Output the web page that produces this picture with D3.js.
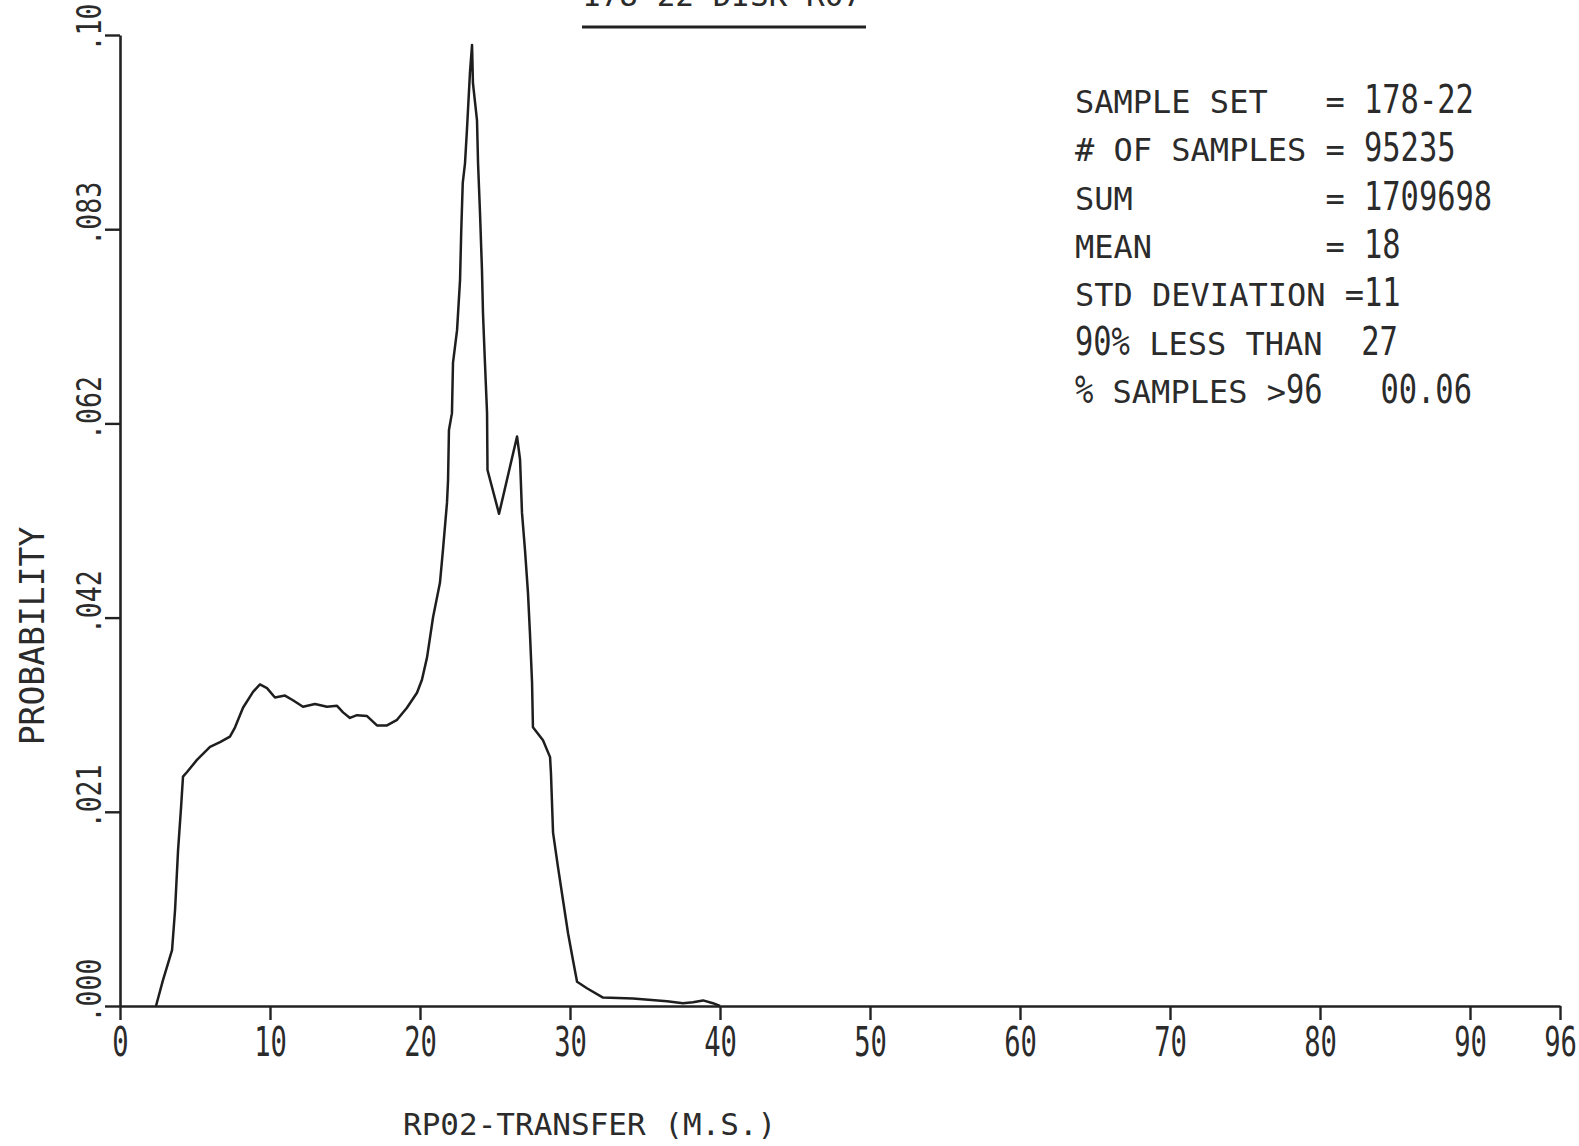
<!DOCTYPE html>
<html>
<head>
<meta charset="utf-8">
<script src="https://cdn.jsdelivr.net/npm/d3@7"></script>
<style>
  body { margin: 0; background: #fff; }
  svg { display: block; }
  text { fill: #2b2b2b; font-family: "DejaVu Sans Mono", "Liberation Mono", monospace; white-space: pre; }
</style>
</head>
<body>
<svg id="chart" width="1579" height="1146"></svg>
<script>
// RP02 transfer time distribution
const transferMs = [2.4, 2.87, 3.47, 3.67, 3.87, 4.07, 4.2, 4.47, 5.13, 6.0, 6.67, 7.33, 7.67, 8.2,
  8.87, 9.33, 9.8, 10.33, 11.0, 11.53, 12.2, 13.0, 13.8, 14.47, 14.87, 15.33, 15.8, 16.47, 17.13,
  17.8, 18.47, 19.13, 19.8, 20.13, 20.47, 20.87, 21.33, 21.53, 21.8, 21.87, 21.93, 22.13, 22.2,
  22.47, 22.67, 22.75, 22.85, 23.0, 23.13, 23.33, 23.47, 23.53, 23.8, 23.87, 24.0, 24.13, 24.2,
  24.33, 24.47, 24.5, 25.27, 26.47, 26.67, 26.8, 27.0, 27.2, 27.33, 27.47, 27.53, 28.2, 28.67,
  28.73, 28.87, 29.2, 29.53, 29.87, 30.2, 30.47, 31.13, 32.2, 34.2, 36.47, 37.53, 38.2, 38.87,
  39.53, 40.0];
const probability = [0, .0028, .0060, .0103, .0167, .0213, .0246, .0251, .0264, .0278, .0283,
  .0289, .0299, .0320, .0337, .0345, .0341, .0331, .0333, .0328, .0321, .0324, .0321, .0322,
  .0315, .0309, .0312, .0311, .0301, .0301, .0307, .0320, .0336, .0350, .0374, .0417, .0454,
  .0489, .0540, .0564, .0618, .0636, .0690, .0725, .0779, .0832, .0883, .0904, .0940, .1001,
  .1031, .0990, .0950, .0904, .0851, .0790, .0743, .0690, .0636, .0575, .0528, .0611, .0586,
  .0529, .0489, .0443, .0400, .0347, .0299, .0285, .0267, .0250, .0186, .0149, .0114, .0078,
  .0049, .0026, .0019, .0009, .0008, .0005, .0003, .0004, .0006, .0003, 0];

const xTicks = [0, 10, 20, 30, 40, 50, 60, 70, 80, 90, 96];
const yTicks = [0, 0.020833, 0.041667, 0.0625, 0.083333, 0.104167];
const yTickLabels = ['.000', '.021', '.042', '.062', '.083', '.10'];

const title = '178-22 DISK R07';
const xTitle = 'RP02-TRANSFER (M.S.)';
const yTitle = 'PROBABILITY';

const statLabels = ['SAMPLE SET', '# OF SAMPLES', 'SUM', 'MEAN', 'STD DEVIATION', '90% LESS THAN', '% SAMPLES >96'];
const statValues = ['178-22', '95235', '1709698', '18', '11', '27', '00.06'];
const statPad = [13, 13, 13, 13, 14, 0, 0];
const statSep = ['= ', '= ', '= ', '= ', '=', '  ', '   '];

const svg = d3.select('#chart');
const ink = '#222';

const x = d3.scaleLinear().domain([0, 96]).range([120, 1560]);
const y = d3.scaleLinear().domain([0, yTicks[yTicks.length - 1]]).range([1006, 35]);

// axes
const xAxis = d3.axisBottom(x).tickValues(xTicks).tickFormat(d3.format('d'))
  .tickSizeInner(14).tickSizeOuter(0);
const yAxis = d3.axisLeft(y).tickValues(yTicks).tickFormat((d, i) => yTickLabels[i])
  .tickSizeInner(15).tickSizeOuter(0);

const gx = svg.append('g').attr('transform', `translate(0,${y(0)})`).call(xAxis);
const gy = svg.append('g').attr('transform', `translate(${x(0)},0)`).call(yAxis);

[gx, gy].forEach(g => {
  g.select('.domain').attr('stroke', ink).attr('stroke-width', 2.6);
  g.selectAll('.tick line').attr('stroke', ink).attr('stroke-width', 2.4);
  g.selectAll('.tick text').attr('fill', '#2b2b2b')
    .style('font-family', '"DejaVu Sans Mono", monospace');
});

gx.selectAll('.tick text')
  .attr('y', null).attr('dy', null)
  .attr('font-size', 40)
  .attr('transform', 'translate(0,50) scale(0.68,1)');

gy.selectAll('.tick text')
  .attr('x', null).attr('dy', null)
  .attr('font-size', 34)
  .attr('text-anchor', 'start')
  .attr('transform', 'translate(-19,16) rotate(-90) scale(0.78,1)');

// curve
const line = d3.line()
  .x((d, i) => x(transferMs[i]))
  .y(d => y(d));

svg.append('path')
  .datum(probability)
  .attr('d', line)
  .attr('fill', 'none')
  .attr('stroke', '#1e1e1e')
  .attr('stroke-width', 2.5)
  .attr('stroke-linejoin', 'round');

// titles
svg.append('text').attr('x', 582).attr('y', 6).attr('font-size', 31).text(title);
svg.append('line').attr('x1', 582).attr('x2', 866).attr('y1', 27).attr('y2', 27)
  .attr('stroke', ink).attr('stroke-width', 3);

svg.append('text').attr('x', 403).attr('y', 1135).attr('font-size', 31).text(xTitle);

svg.append('text')
  .attr('transform', 'translate(44,636) rotate(-90)')
  .attr('text-anchor', 'middle')
  .attr('font-size', 33)
  .text(yTitle);

// statistics block: small caps-ish labels, tall narrow numerals
const small = {size: 32, sx: 1};
const big = {size: 39, sx: 0.78};

statLabels.forEach((label, i) => {
  const baseline = 113 + i * 48.3;
  const segments = [];
  label.padEnd(statPad[i]).split(/([0-9%][0-9.%\-]*)/).forEach(tok => {
    if (!tok) return;
    segments.push([tok, /^[0-9%]/.test(tok) ? big : small]);
  });
  segments.push([statSep[i], small]);
  segments.push([statValues[i], big]);

  let cursor = 1075;
  segments.forEach(([tok, f]) => {
    const t = svg.append('text')
      .attr('xml:space', 'preserve')
      .attr('font-size', f.size)
      .attr('transform', `translate(${cursor},${baseline}) scale(${f.sx},1)`)
      .text(tok);
    cursor += t.node().getComputedTextLength() * f.sx;
  });
});
</script>
</body>
</html>
